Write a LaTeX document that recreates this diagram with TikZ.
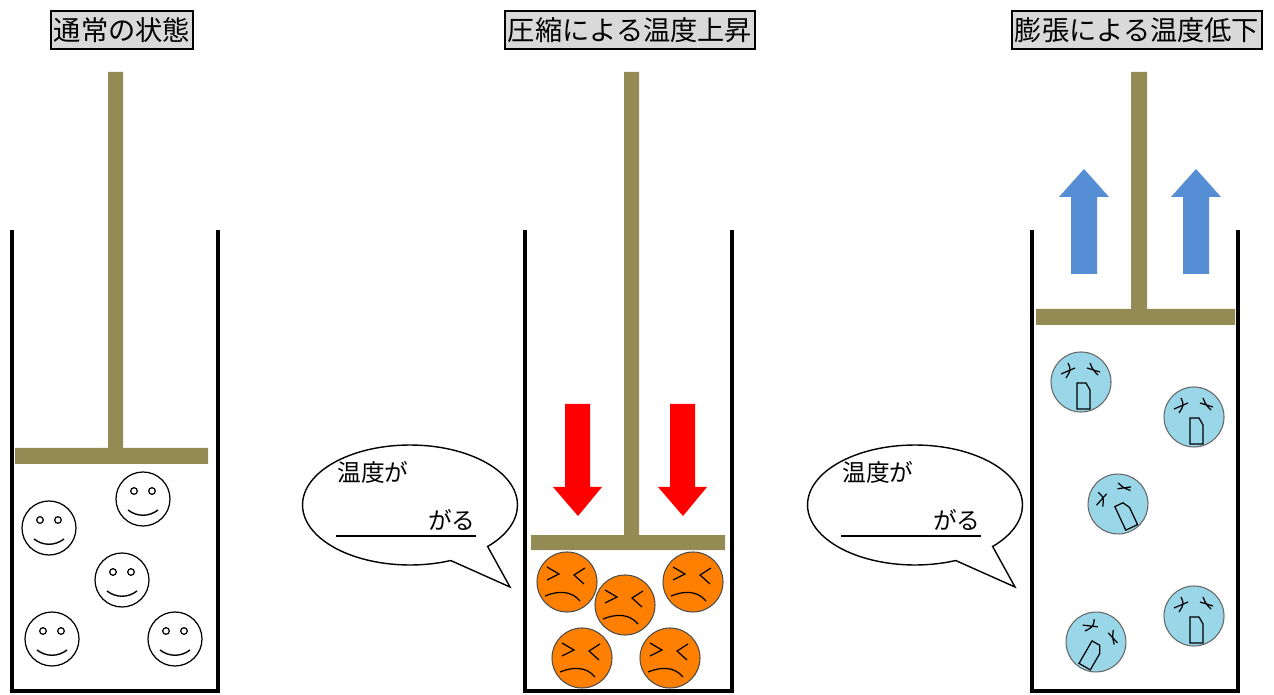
\documentclass[tikz,border=0pt]{standalone}
\usepackage{fontspec}
\setmainfont{Noto Sans CJK JP}
\usepackage{tikz}
\usetikzlibrary{positioning}
\usetikzlibrary{shapes.callouts}

\definecolor{rodcolor}{HTML}{948A54}
\definecolor{hotface}{HTML}{FF7F00}
\definecolor{coldface}{HTML}{98D6E8}
\definecolor{risecolor}{HTML}{558ED5}
\definecolor{titlegray}{HTML}{D9D9D9}

\tikzset{
  wall/.style={line width=2.8pt},
  piston/.style={fill=rodcolor},
  title/.style={draw,line width=1.1pt,fill=titlegray,inner xsep=1.5pt,inner ysep=1pt,
    minimum height=22pt,font=\fontsize{15.5}{18}\selectfont},
  bubble/.style={ellipse callout,draw,line width=0.8pt,minimum width=4.3cm,
    minimum height=2.4cm,callout pointer arc=24},
  saying/.style={inner sep=0pt,font=\fontsize{13.5}{16}\selectfont},
  % calm particle
  pics/happy/.style={code={
    \draw[line width=0.7pt] (0,0) circle (27);
    \draw[line width=0.7pt] (-9,-8) circle (3.3) (9,-8) circle (3.3);
    \draw[line width=0.8pt] (-15,11) .. controls (-6,18) and (6,18) .. (15,11);
  }},
  % squeezed particle
  pics/pained/.style={code={
    \draw[fill=hotface,draw=black!70,line width=0.6pt] (0,0) circle (30);
    \draw[line width=0.7pt] (-20,-15) -- (-8,-8) -- (-20,-2);
    \draw[line width=0.7pt] (18,-14) -- (7,-7) -- (17,2);
    \draw[line width=0.7pt] (-22,14) .. controls (-10,9) and (4,8) .. (13,19);
  }},
  % cooled particle
  pics/chilled/.style={code={
    \draw[fill=coldface,draw=black!60,line width=0.6pt] (0,0) circle (30);
    \draw[line width=0.7pt] (-20,-8) -- (-6,-14) (-13,-19) .. controls (-10,-12) .. (-15,-4);
    \draw[line width=0.7pt] (6,-14) -- (19,-10) (9,-19) .. controls (12,-12) .. (17,-7);
    \draw[line width=0.7pt] (-4,27) -- (-4,1) -- (5,1) -- (9,8) -- (9,27) -- cycle;
  }},
}

\begin{document}
\begin{tikzpicture}[x=0.02cm,y=-0.02cm]
  \useasboundingbox (0,0) rectangle (1274,695);

  % headings
  \node[title] (normal) at (122,30) {通常の状態};
  \node[title] (squeeze) at (630,30) {圧縮による温度上昇};
  \node[title] (stretch) at (1137,30) {膨張による温度低下};

  % cylinders
  \draw[wall] (12,230) -- (12,691) -- (218,691) -- (218,230);
  \draw[wall] (525,230) -- (525,691) -- (732,691) -- (732,230);
  \draw[wall] (1032,230) -- (1032,691) -- (1238,691) -- (1238,230);

  % pistons (rod + plate)
  \fill[piston] (108,72) rectangle (123,449) (15,448) rectangle (208,464);
  \fill[piston] (624,72) rectangle (639,536) (531,535) rectangle (725,550);
  \fill[piston] (1131,72) rectangle (1147,310) (1036,309) rectangle (1235,325);

  % push down / pull up
  \foreach \dx in {0,105}
    \fill[red,xshift=\dx*0.02cm] (565,404) -- (590,404) -- (590,487) -- (602,487)
      -- (578,516) -- (553,487) -- (565,487) -- cycle;
  \foreach \dx in {0,112}
    \fill[risecolor,xshift=\dx*0.02cm] (1071,274) -- (1071,197) -- (1059,197)
      -- (1084,169) -- (1109,197) -- (1097,197) -- (1097,274) -- cycle;

  % particles
  \pic at (143,499) {happy};
  \pic at (49,528) {happy};
  \pic at (122,580) {happy};
  \pic at (52,639) {happy};
  \pic at (175,639) {happy};

  \pic at (567,582) {pained};
  \pic at (693,582) {pained};
  \pic at (625,605) {pained};
  \pic at (582,658) {pained};
  \pic at (670,658) {pained};

  \pic at (1081,382) {chilled};
  \pic at (1194,417) {chilled};
  \pic[rotate=25] at (1118,504) {chilled};
  \pic[rotate=-30] at (1096,642) {chilled};
  \pic at (1194,616) {chilled};

  % speech bubbles
  \coordinate (tip1) at (510,587);
  \coordinate (tip2) at (1015,587);
  \node[bubble,callout absolute pointer={(tip1)}] (say1) at (410,505) {};
  \node[bubble,callout absolute pointer={(tip2)}] (say2) at (915,505) {};

  \node[saying,anchor=west] (ask1) at (337,472) {温度が};
  \node[saying,anchor=east] (ans1) at (476,520) {がる};
  \coordinate (blank1) at (336,536);
  \draw[line width=0.9pt] (blank1) -- (blank1 -| ans1.east);

  \node[saying,anchor=west] (ask2) at (842,472) {温度が};
  \node[saying,anchor=east] (ans2) at (981,520) {がる};
  \coordinate (blank2) at (841,536);
  \draw[line width=0.9pt] (blank2) -- (blank2 -| ans2.east);
\end{tikzpicture}
\end{document}
